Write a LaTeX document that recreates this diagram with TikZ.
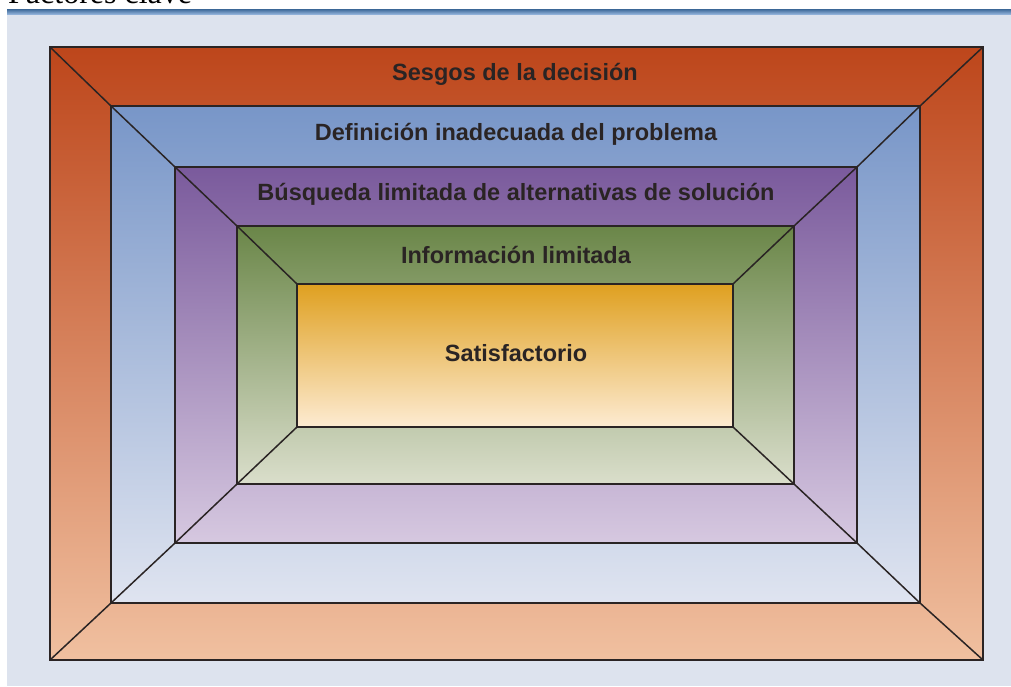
\documentclass[tikz,border=0pt]{standalone}
\usepackage{fontspec}
\setmainfont{Liberation Serif}
\newfontfamily\lsans{Liberation Sans}
\definecolor{bgc}{HTML}{DDE3EE}
\definecolor{bandtop}{HTML}{3B6797}
\definecolor{bandbot}{HTML}{8FB0D8}
\definecolor{oTop}{HTML}{BD461B}
\definecolor{oBot}{HTML}{F0C0A0}
\definecolor{bTop}{HTML}{7896C8}
\definecolor{bBot}{HTML}{DFE4F0}
\definecolor{pTop}{HTML}{7A5A9C}
\definecolor{pBot}{HTML}{D6C8E0}
\definecolor{gTop}{HTML}{6A8648}
\definecolor{gBot}{HTML}{DADECB}
\definecolor{yTop}{HTML}{DFA020}
\definecolor{yBot}{HTML}{FDEBD2}
\definecolor{ink}{HTML}{2A2424}
\tikzset{
  frame/.style={draw=ink, line width=1.5pt},
  diag/.style={draw=ink, line width=1.5pt},
  lab/.style={font=\lsans\bfseries\fontsize{23.5}{26}\selectfont, text=ink, inner sep=0pt}
}
\begin{document}
\begin{tikzpicture}[x=1pt,y=-1pt]
\useasboundingbox (0,0) rectangle (1011,686);
\clip (0,0) rectangle (1011,686);
\fill[white] (0,0) rectangle (1011,686);
\fill[bgc] (7,14) rectangle (1011,686);
\shade[top color=bandtop, bottom color=bandbot] (7,9) rectangle (1011,14);
\node[anchor=base west, inner sep=0pt, font=\fontsize{32}{34}\selectfont] (title) at (8,3) {Factores clave};
% corners
\coordinate (a1) at (50,47);   \coordinate (a2) at (983,47);  \coordinate (a3) at (983,660); \coordinate (a4) at (50,660);
\coordinate (b1) at (111,106); \coordinate (b2) at (920,106); \coordinate (b3) at (920,603); \coordinate (b4) at (111,603);
\coordinate (c1) at (175,167); \coordinate (c2) at (857,167); \coordinate (c3) at (857,543); \coordinate (c4) at (175,543);
\coordinate (d1) at (237,226); \coordinate (d2) at (794,226); \coordinate (d3) at (794,484); \coordinate (d4) at (237,484);
\coordinate (e1) at (297,284); \coordinate (e2) at (733,284); \coordinate (e3) at (733,427); \coordinate (e4) at (297,427);
\shade[top color=oTop, bottom color=oBot] (a1) rectangle (a3);
\shade[top color=bTop, bottom color=bBot] (b1) rectangle (b3);
\shade[top color=pTop, bottom color=pBot] (c1) rectangle (c3);
\shade[top color=gTop, bottom color=gBot] (d1) rectangle (d3);
\shade[top color=yTop, bottom color=yBot] (e1) rectangle (e3);
\foreach \r in {a,b,c,d,e}{\draw[frame] (\r1) -- (\r2) -- (\r3) -- (\r4) -- cycle;}
\foreach \k in {1,2,3,4}{
  \draw[diag] (a\k) -- (b\k);
  \draw[diag] (b\k) -- (c\k);
  \draw[diag] (c\k) -- (d\k);
  \draw[diag] (d\k) -- (e\k);
}
\node[lab] (t1) at (515,74) {Sesgos de la decisión};
\node[lab] (t2) at (516,134) {Definición inadecuada del problema};
\node[lab] (t3) at (516,194) {Búsqueda limitada de alternativas de solución};
\node[lab] (t4) at (516,255) {Información limitada};
\node[lab] (t5) at (516,353) {Satisfactorio};
\end{tikzpicture}
\end{document}
